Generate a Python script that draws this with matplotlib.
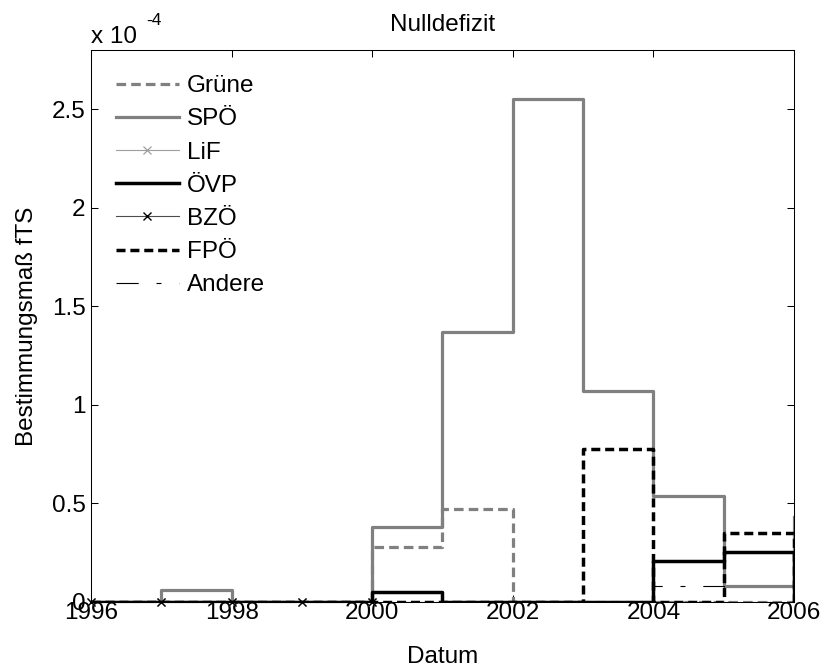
import numpy as np
import matplotlib
matplotlib.use("Agg")
import matplotlib.pyplot as plt
from matplotlib.ticker import FuncFormatter

plt.rcParams['font.family'] = ['Liberation Sans', 'DejaVu Sans']
plt.rcParams['font.size'] = 17.5

# yearly values (units of 1e-4), stairs drawn 'post'
years = np.arange(1996, 2007)
gruene = np.array([0, 0, 0, 0, 0.28, 0.47, 0, 0, 0, 0, 0]) * 1e-4
spoe = np.array([0, 0.06, 0, 0, 0.38, 1.37, 2.55, 1.07, 0.54, 0.08, 0.43]) * 1e-4
oevp = np.array([0, 0, 0, 0, 0.05, 0, 0, 0, 0.21, 0.255, 0]) * 1e-4
fpoe = np.array([0, 0, 0, 0, 0, 0, 0, 0.775, 0, 0.35, 0]) * 1e-4
andere = np.array([0, 0, 0, 0, 0, 0, 0, 0, 0.083, 0, 0]) * 1e-4
years_short = np.arange(1996, 2001)
lif = np.zeros(5)
bzoe = np.zeros(5)

xticks = [1996, 1998, 2000, 2002, 2004, 2006]
yticks = [0, 0.5e-4, 1e-4, 1.5e-4, 2e-4, 2.5e-4]

fig = plt.figure(figsize=(8.25, 6.68), dpi=100)
ax = fig.add_axes([91 / 825, 66 / 668, 703 / 825, 552 / 668])

grey = (0.5, 0.5, 0.5)
ax.step(years, gruene, where='post', color=grey, lw=2.3, ls=(0, (3.0, 1.6)), label='Grüne')
ax.step(years, spoe, where='post', color=grey, lw=2.3, label='SPÖ')
ax.step(years_short, lif, where='post', color=(0.62, 0.62, 0.62), lw=0.8,
        marker='x', ms=6, mew=0.9, clip_on=False, label='LiF')
ax.step(years, oevp, where='post', color='black', lw=2.5, label='ÖVP')
ax.step(years_short, bzoe, where='post', color=(0.3, 0.3, 0.3), lw=0.8,
        marker='x', ms=6, mew=1.0, mec='black', clip_on=False, label='BZÖ')
ax.step(years, fpoe, where='post', color='black', lw=2.5, ls=(0, (2.6, 1.4)), label='FPÖ')
ax.step(years, andere, where='post', color='black', lw=0.8, ls=(0, (20, 16, 4.5, 16)), label='Andere')

ax.set_xlim(1996, 2006)
ax.set_ylim(0, 2.8e-4)
ax.set_xticks(xticks)
ax.set_yticks(yticks)
ax.yaxis.set_major_formatter(FuncFormatter(lambda v, p: f"{v / 1e-4:g}"))
ax.tick_params(direction='in', top=True, right=True, length=5, width=0.75)
ax.tick_params(axis='x', pad=0)
ax.tick_params(axis='y', pad=4)
for s in ax.spines.values():
    s.set_linewidth(0.75)
    s.set_zorder(5)

ax.set_title('Nulldefizit', fontsize=17.5, pad=14)
ax.set_xlabel('Datum', labelpad=16)
ax.set_ylabel('Bestimmungsmaß fTS', labelpad=10)

fig.text(91 / 825, 1 - 43 / 668, 'x 10', fontsize=17.5, ha='left', va='baseline')
fig.text(146 / 825, 1 - 25 / 668, '-4', fontsize=12.5, ha='left', va='baseline')

ax.legend(loc='upper left', frameon=False, handlelength=2.6, handletextpad=0.33,
          labelspacing=0.46, bbox_to_anchor=(0.004, 0.994), borderaxespad=0.5,
          fontsize=17.5)

fig.savefig('out.png', dpi=100)
